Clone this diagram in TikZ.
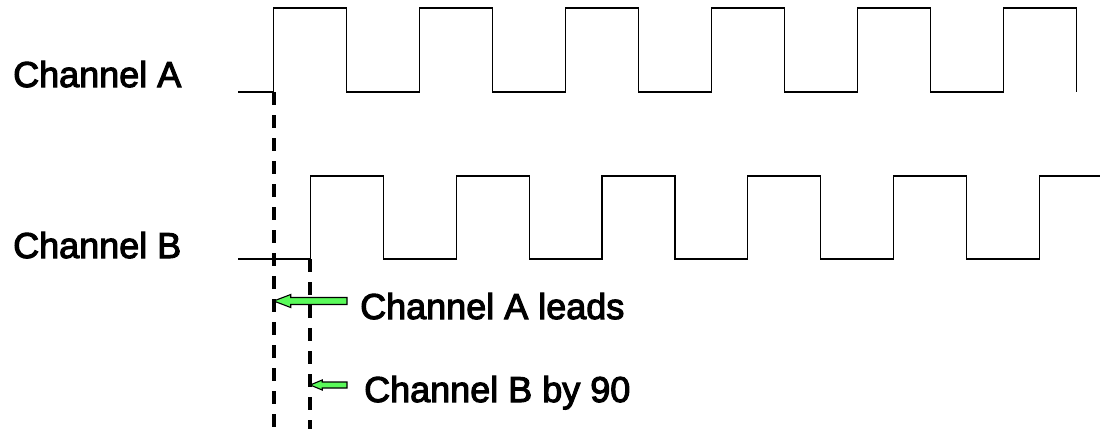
\documentclass[tikz,border=0pt]{standalone}
\usepackage{fontspec}
\setmainfont{Liberation Sans}
\newfontfamily\chanfont{Liberation Sans}[FakeBold=3]
\usetikzlibrary{calc, positioning}

\definecolor{leadgreen}{RGB}{90,250,90}

% block arrow: tail, tip, shaft half width, head length, head half width
\newcommand{\leadarrow}[5]{%
  \filldraw[leadarr] (#2) -- ($(#2)+(#4,-#5)$) -- ($(#2)+(#4,-#3)$)
    -- ($(#1)+(0,-#3)$) -- ($(#1)+(0,#3)$) -- ($(#2)+(#4,#3)$)
    -- ($(#2)+(#4,#5)$) -- cycle;}

\begin{document}
\begin{tikzpicture}[
    x=1pt, y=-1pt,
    wave/.style={line width=1.1pt, line join=miter},
    edgeline/.style={line width=3.6pt, dash pattern=on 13pt off 10pt},
    leadarr/.style={fill=leadgreen, draw=black, line width=1.1pt},
    chan/.style={font=\chanfont\fontsize{36}{40}\selectfont, inner sep=0pt,
                 anchor=base west}
]
\useasboundingbox (0,0) rectangle (1105,429);

% channel A
\draw[wave] (238,92) foreach \k in {0,...,4} {
    -- ({273.7+145.9*\k},92) -- ++(0,-84) -- ++(72.95,0) -- ++(0,84)}
    -- (1003.2,92) -- ++(0,-84) -- ++(72.95,0) -- ++(0,84);
% channel B, a quarter period later
\draw[wave] (238,259) foreach \k in {0,...,4} {
    -- ({310.2+145.9*\k},259) -- ++(0,-83) -- ++(72.95,0) -- ++(0,83)}
    -- (1039.7,259) -- ++(0,-83) -- (1100,176);

\node[chan] (chA) at (13,87)  {Channel A};
\node[chan] (chB) at (13,258) {Channel B};

\coordinate (aedge) at (273.7,92);
\coordinate (bedge) at (310.2,259);
\draw[edgeline] (aedge) -- (aedge |- 0,429);
\draw[edgeline] (bedge) -- (bedge |- 0,429);

\node[chan] (leadA) at (360,319) {Channel A leads};
\node[chan] (leadB) at (364,402) {Channel B by 90};

\coordinate (tipA)  at (aedge |- 0,301);
\coordinate (tailA) at (347,301);
\coordinate (tipB)  at (bedge |- 0,385);
\coordinate (tailB) at (347,385);
\leadarrow{tailA}{tipA}{3.5}{17}{6.5}
\leadarrow{tailB}{tipB}{3}{12}{5}
\end{tikzpicture}
\end{document}
